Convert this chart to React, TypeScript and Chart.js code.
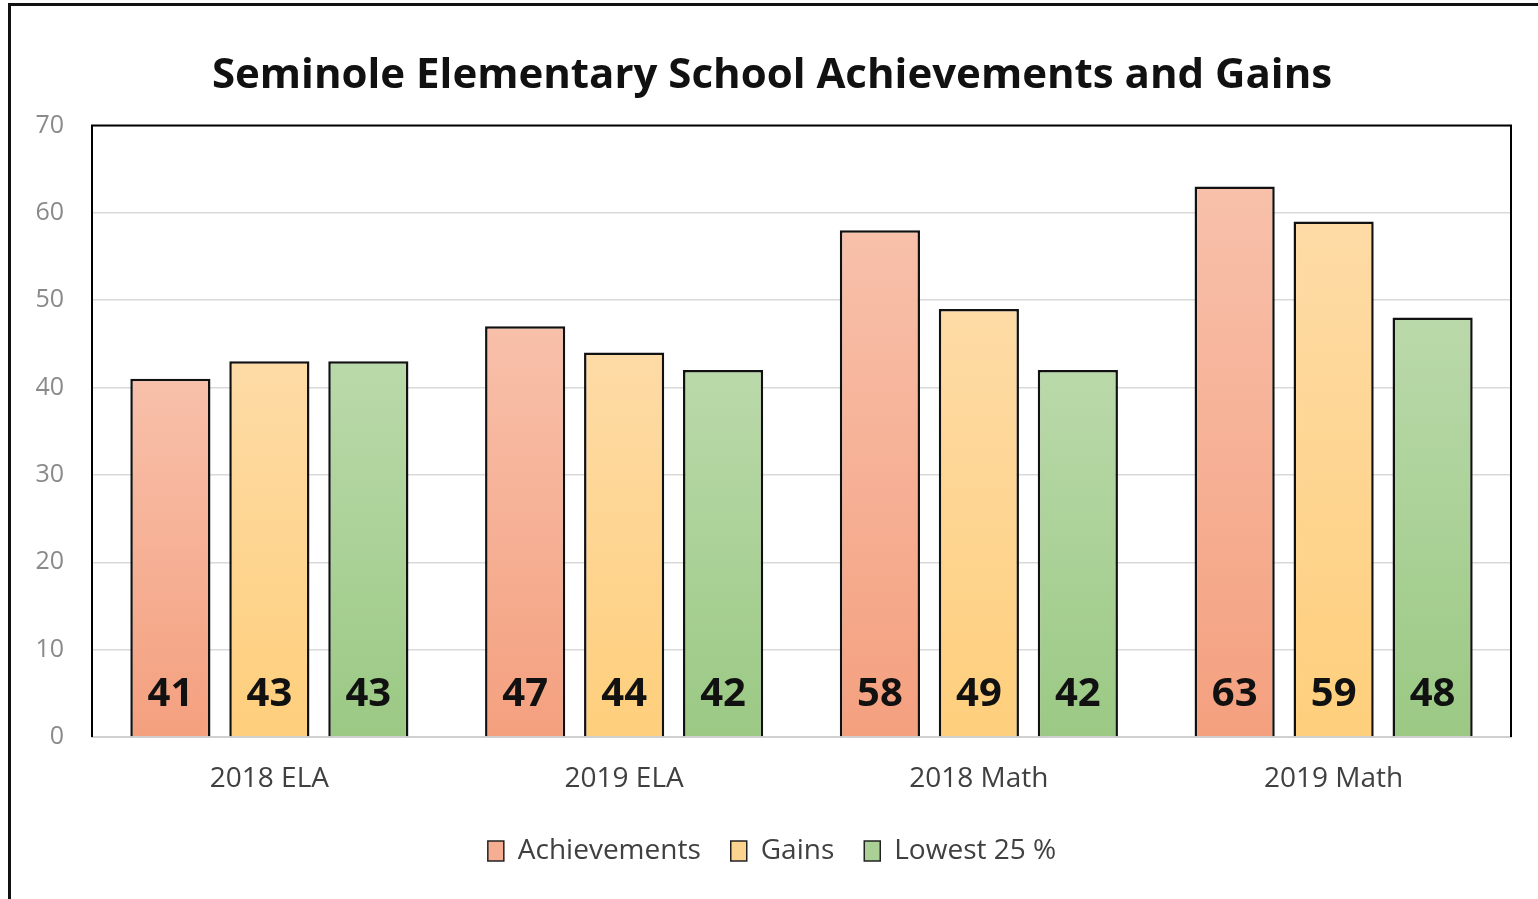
import React, { useEffect, useRef } from "react";
import { Chart, registerables } from "chart.js";

Chart.register(...registerables);

const categories = ["2018 ELA", "2019 ELA", "2018 Math", "2019 Math"];
const achievements = [41, 47, 58, 63];
const gains = [43, 44, 49, 59];
const lowest25 = [43, 42, 42, 48];
const seriesNames = ["Achievements", "Gains", "Lowest 25 %"];
const yTicks = [0, 10, 20, 30, 40, 50, 60, 70];

const topColors = ["#f8c0aa", "#fedba6", "#bad9aa"];
const bottomColors = ["#f4a07f", "#fecf7c", "#9bc984"];
const legendColors = ["#f5ae92", "#fdd48f", "#abd096"];

const FONT = "'Open Sans', 'DejaVu Sans', sans-serif";

function gradientFill(seriesIndex: number) {
  return (ctx: any) => {
    const chart = ctx.chart;
    const area = chart.chartArea;
    const yScale = chart.scales && chart.scales.y;
    if (!area || !yScale || ctx.type !== "data") return bottomColors[seriesIndex];
    const v = ctx.raw as number;
    const yTop = yScale.getPixelForValue(v);
    const yBot = yScale.getPixelForValue(0);
    if (!isFinite(yTop) || !isFinite(yBot) || yTop === yBot) return bottomColors[seriesIndex];
    const g = chart.ctx.createLinearGradient(0, yTop, 0, yBot);
    g.addColorStop(0, topColors[seriesIndex]);
    g.addColorStop(1, bottomColors[seriesIndex]);
    return g;
  };
}

const frameAndLabels = {
  id: "frameAndLabels",
  beforeDatasetsDraw(chart: any) {
    const { ctx, chartArea } = chart;
    ctx.save();
    ctx.strokeStyle = "#000";
    ctx.lineWidth = 2;
    ctx.beginPath();
    ctx.moveTo(chartArea.left, chartArea.bottom);
    ctx.lineTo(chartArea.left, chartArea.top);
    ctx.lineTo(chartArea.right, chartArea.top);
    ctx.lineTo(chartArea.right, chartArea.bottom);
    ctx.stroke();
    ctx.restore();
  },
  afterDatasetsDraw(chart: any) {
    const { ctx } = chart;
    const yScale = chart.scales.y;
    const base = yScale.getPixelForValue(0);
    ctx.save();
    ctx.font = `bold 40px ${FONT}`;
    ctx.fillStyle = "#111";
    ctx.textAlign = "center";
    ctx.textBaseline = "middle";
    chart.data.datasets.forEach((ds: any, di: number) => {
      const meta = chart.getDatasetMeta(di);
      meta.data.forEach((bar: any, i: number) => {
        ctx.fillText(String(ds.data[i]), bar.x, base - 42);
      });
    });
    ctx.restore();
  },
};

export default function App() {
  const canvasRef = useRef<HTMLCanvasElement>(null);

  useEffect(() => {
    if (!canvasRef.current) return;
    const seriesData = [achievements, gains, lowest25];
    const chart = new Chart(canvasRef.current, {
      type: "bar",
      data: {
        labels: categories,
        datasets: seriesData.map((d, i) => ({
          label: seriesNames[i],
          data: d,
          backgroundColor: gradientFill(i),
          borderColor: "#111",
          borderWidth: 2.5,
          borderSkipped: "bottom",
          categoryPercentage: 0.837,
          barPercentage: 0.81,
        })),
      },
      options: {
        animation: false,
        responsive: false,
        maintainAspectRatio: false,
        devicePixelRatio: 1,
        layout: { padding: { left: 33, right: 27, top: 0, bottom: 24 } },
        plugins: {
          title: {
            display: true,
            text: "Seminole Elementary School Achievements and Gains",
            color: "#111",
            font: { family: FONT, size: 42, weight: "bold" },
            padding: { top: 51, bottom: 24 },
          },
          legend: {
            position: "bottom",
            labels: {
              color: "#404040",
              font: { family: FONT, size: 28 },
              boxWidth: 16,
              boxHeight: 20,
              padding: 30,
              generateLabels: (chart: any) =>
                chart.data.datasets.map((ds: any, i: number) => ({
                  text: ds.label,
                  fillStyle: legendColors[i],
                  strokeStyle: "#222",
                  lineWidth: 1.5,
                  hidden: false,
                  datasetIndex: i,
                  fontColor: "#404040",
                })),
            },
          },
          tooltip: { enabled: false },
        },
        scales: {
          x: {
            grid: { display: false, drawTicks: false },
            border: { display: true, color: "#d0d0d0", width: 2 },
            ticks: {
              color: "#404040",
              font: { family: FONT, size: 28 },
              padding: 25,
            },
            afterFit: (scale: any) => {
              scale.height = 70;
            },
          },
          y: {
            min: 0,
            max: 70,
            afterBuildTicks: (scale: any) => {
              scale.ticks = yTicks.map((v) => ({ value: v }));
            },
            grid: { color: "#d9d9d9", lineWidth: 1.5, drawTicks: false },
            border: { display: false },
            ticks: {
              color: "#8a8a8a",
              font: { family: FONT, size: 25 },
              padding: 28,
            },
            afterFit: (scale: any) => {
              scale.width = 59;
            },
          },
        },
      },
      plugins: [frameAndLabels],
    });
    return () => chart.destroy();
  }, []);

  return (
    <div style={{ position: "fixed", left: 0, top: 0, width: 1538, height: 899, background: "#fff", overflow: "hidden" }}>
      <div
        style={{
          position: "absolute",
          left: 8,
          top: 3,
          width: 1600,
          height: 1000,
          borderLeft: "3px solid #111",
          borderTop: "3px solid #111",
        }}
      />
      <canvas ref={canvasRef} width={1538} height={899} style={{ position: "absolute", left: 0, top: 0, width: 1538, height: 899 }} />
    </div>
  );
}
